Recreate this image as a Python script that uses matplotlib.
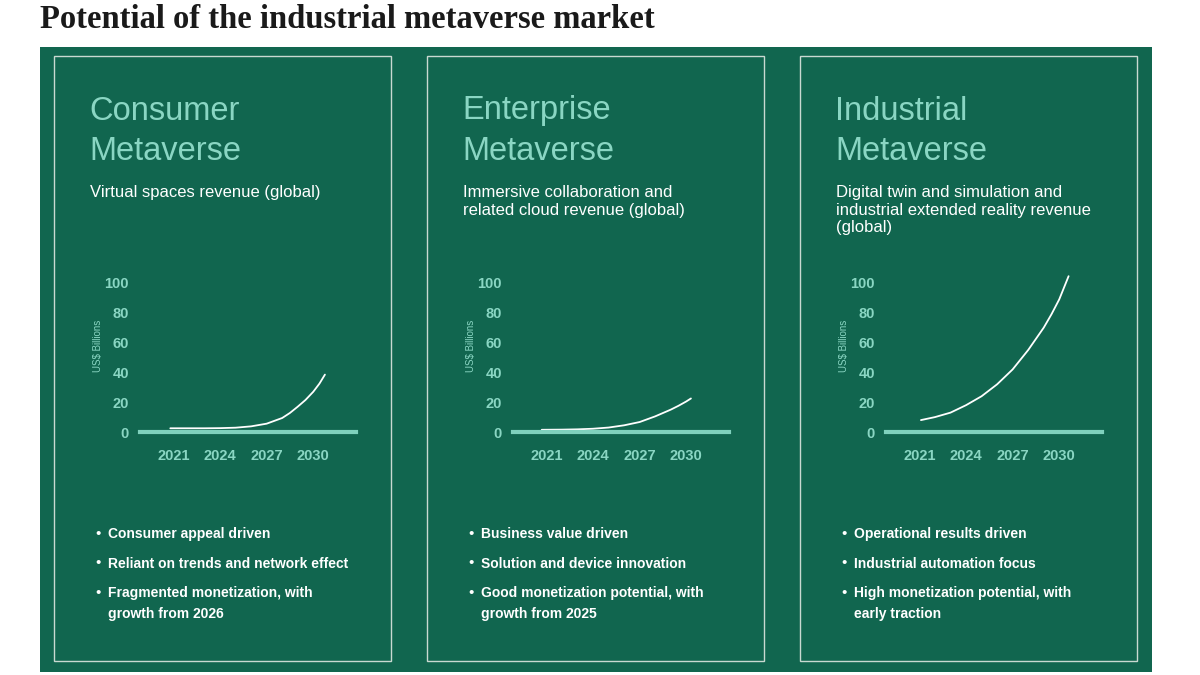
import matplotlib.pyplot as plt
from matplotlib.patches import Rectangle

# data (US$ billions)
consumer_years = [2020.8, 2022, 2023, 2024, 2025, 2026, 2027, 2028, 2028.5, 2029, 2029.5, 2030, 2030.4, 2030.75]
consumer = [2.5, 2.5, 2.5, 2.6, 2.9, 3.8, 5.6, 9.4, 12.8, 17.0, 21.5, 27.0, 32.5, 38.5]
enterprise_years = [2020.7, 2022, 2023, 2024, 2025, 2026, 2027, 2028, 2029, 2029.5, 2030, 2030.3]
enterprise = [1.5, 1.6, 1.8, 2.2, 3.0, 4.5, 6.7, 10.5, 15.0, 17.6, 20.5, 22.5]
industrial_years = [2021.1, 2022, 2023, 2024, 2025, 2026, 2027, 2028, 2029, 2029.5, 2030, 2030.6]
industrial = [8.0, 10.0, 13.0, 18.0, 24.0, 32.0, 42.0, 55.0, 70.0, 79.0, 89.0, 104.5]

tick_years = [2021, 2024, 2027, 2030]
y_ticks = [0, 20, 40, 60, 80, 100]

headings = ["Consumer\nMetaverse", "Enterprise\nMetaverse", "Industrial\nMetaverse"]
subtitles = [
    "Virtual spaces revenue (global)",
    "Immersive collaboration and\nrelated cloud revenue (global)",
    "Digital twin and simulation and\nindustrial extended reality revenue\n(global)",
]
bullets = [
    ["Consumer appeal driven", "Reliant on trends and network effect",
     "Fragmented monetization, with\ngrowth from 2026"],
    ["Business value driven", "Solution and device innovation",
     "Good monetization potential, with\ngrowth from 2025"],
    ["Operational results driven", "Industrial automation focus",
     "High monetization potential, with\nearly traction"],
]
series = [(consumer_years, consumer), (enterprise_years, enterprise),
          (industrial_years, industrial)]

GREEN = "#11664f"
TEAL = "#8ad6c3"
AXIS = "#7fd1bd"
W, H = 1200, 675


def fx(x):
    return x / W


def fy(y):
    return 1 - y / H


fig = plt.figure(figsize=(12, 6.75), dpi=100)
fig.patch.set_facecolor("white")

fig.text(fx(40), fy(28), "Potential of the industrial metaverse market",
         fontfamily="Liberation Serif", fontweight="bold", fontsize=23.5,
         color="#1a1a1a", va="baseline", ha="left")

fig.patches.append(Rectangle((fx(40), fy(672)), fx(1112), (672 - 47) / H,
                             transform=fig.transFigure, facecolor=GREEN,
                             edgecolor="none", zorder=-5))

for i in range(3):
    off = 373 * i
    fig.patches.append(Rectangle((fx(54 + off), fy(661)), fx(337), (661 - 56) / H,
                                 transform=fig.transFigure, facecolor="none",
                                 edgecolor="#c9d9d1", linewidth=1, zorder=-4))

    # heading
    for j, line in enumerate(headings[i].split("\n")):
        fig.text(fx(89 + off), fy(111 + 40 * j), line, color=TEAL,
                 fontfamily="Liberation Sans", fontsize=23.5, va="center", ha="left")

    # subtitle
    for j, line in enumerate(subtitles[i].split("\n")):
        fig.text(fx(90 + off), fy(192 + 18 * j), line, color="white",
                 fontfamily="Liberation Sans", fontsize=12, va="center", ha="left")

    # chart
    ax = fig.add_axes([fx(140 + off), fy(435), fx(216), (435 - 268) / H])
    ax.set_facecolor("none")
    xs, vals = series[i]
    ax.plot(xs, vals, color="white", linewidth=1.3, solid_capstyle="round")
    ax.axhline(0, color=AXIS, linewidth=3, clip_on=False)
    ax.set_xlim(2018.85, 2032.75)
    ax.set_ylim(-2, 110)
    ax.set_xticks(tick_years)
    ax.set_yticks(y_ticks)
    ax.tick_params(length=0, colors=TEAL, labelsize=10.5)
    ax.tick_params(axis="x", pad=10)
    ax.tick_params(axis="y", pad=8)
    for lab in ax.get_xticklabels() + ax.get_yticklabels():
        lab.set_fontweight("bold")
        lab.set_fontfamily("Liberation Sans")
    for s in ax.spines.values():
        s.set_visible(False)
    ax.set_ylabel("US$ Billions", color=TEAL, fontsize=7,
                  fontfamily="Liberation Sans")
    ax.yaxis.set_label_coords(-0.17, 0.536)

    # bullets
    y = 534
    for item in bullets[i]:
        fig.text(fx(98 + off), fy(y), "\u2022", color="white", fontsize=11,
                 fontfamily="Liberation Sans", va="center", ha="center")
        for k, line in enumerate(item.split("\n")):
            fig.text(fx(108 + off), fy(y + 21 * k), line, color="white",
                     fontfamily="Liberation Sans", fontweight="bold",
                     fontsize=10, va="center", ha="left")
        y += 29.5

fig.savefig("out.png", dpi=100)
